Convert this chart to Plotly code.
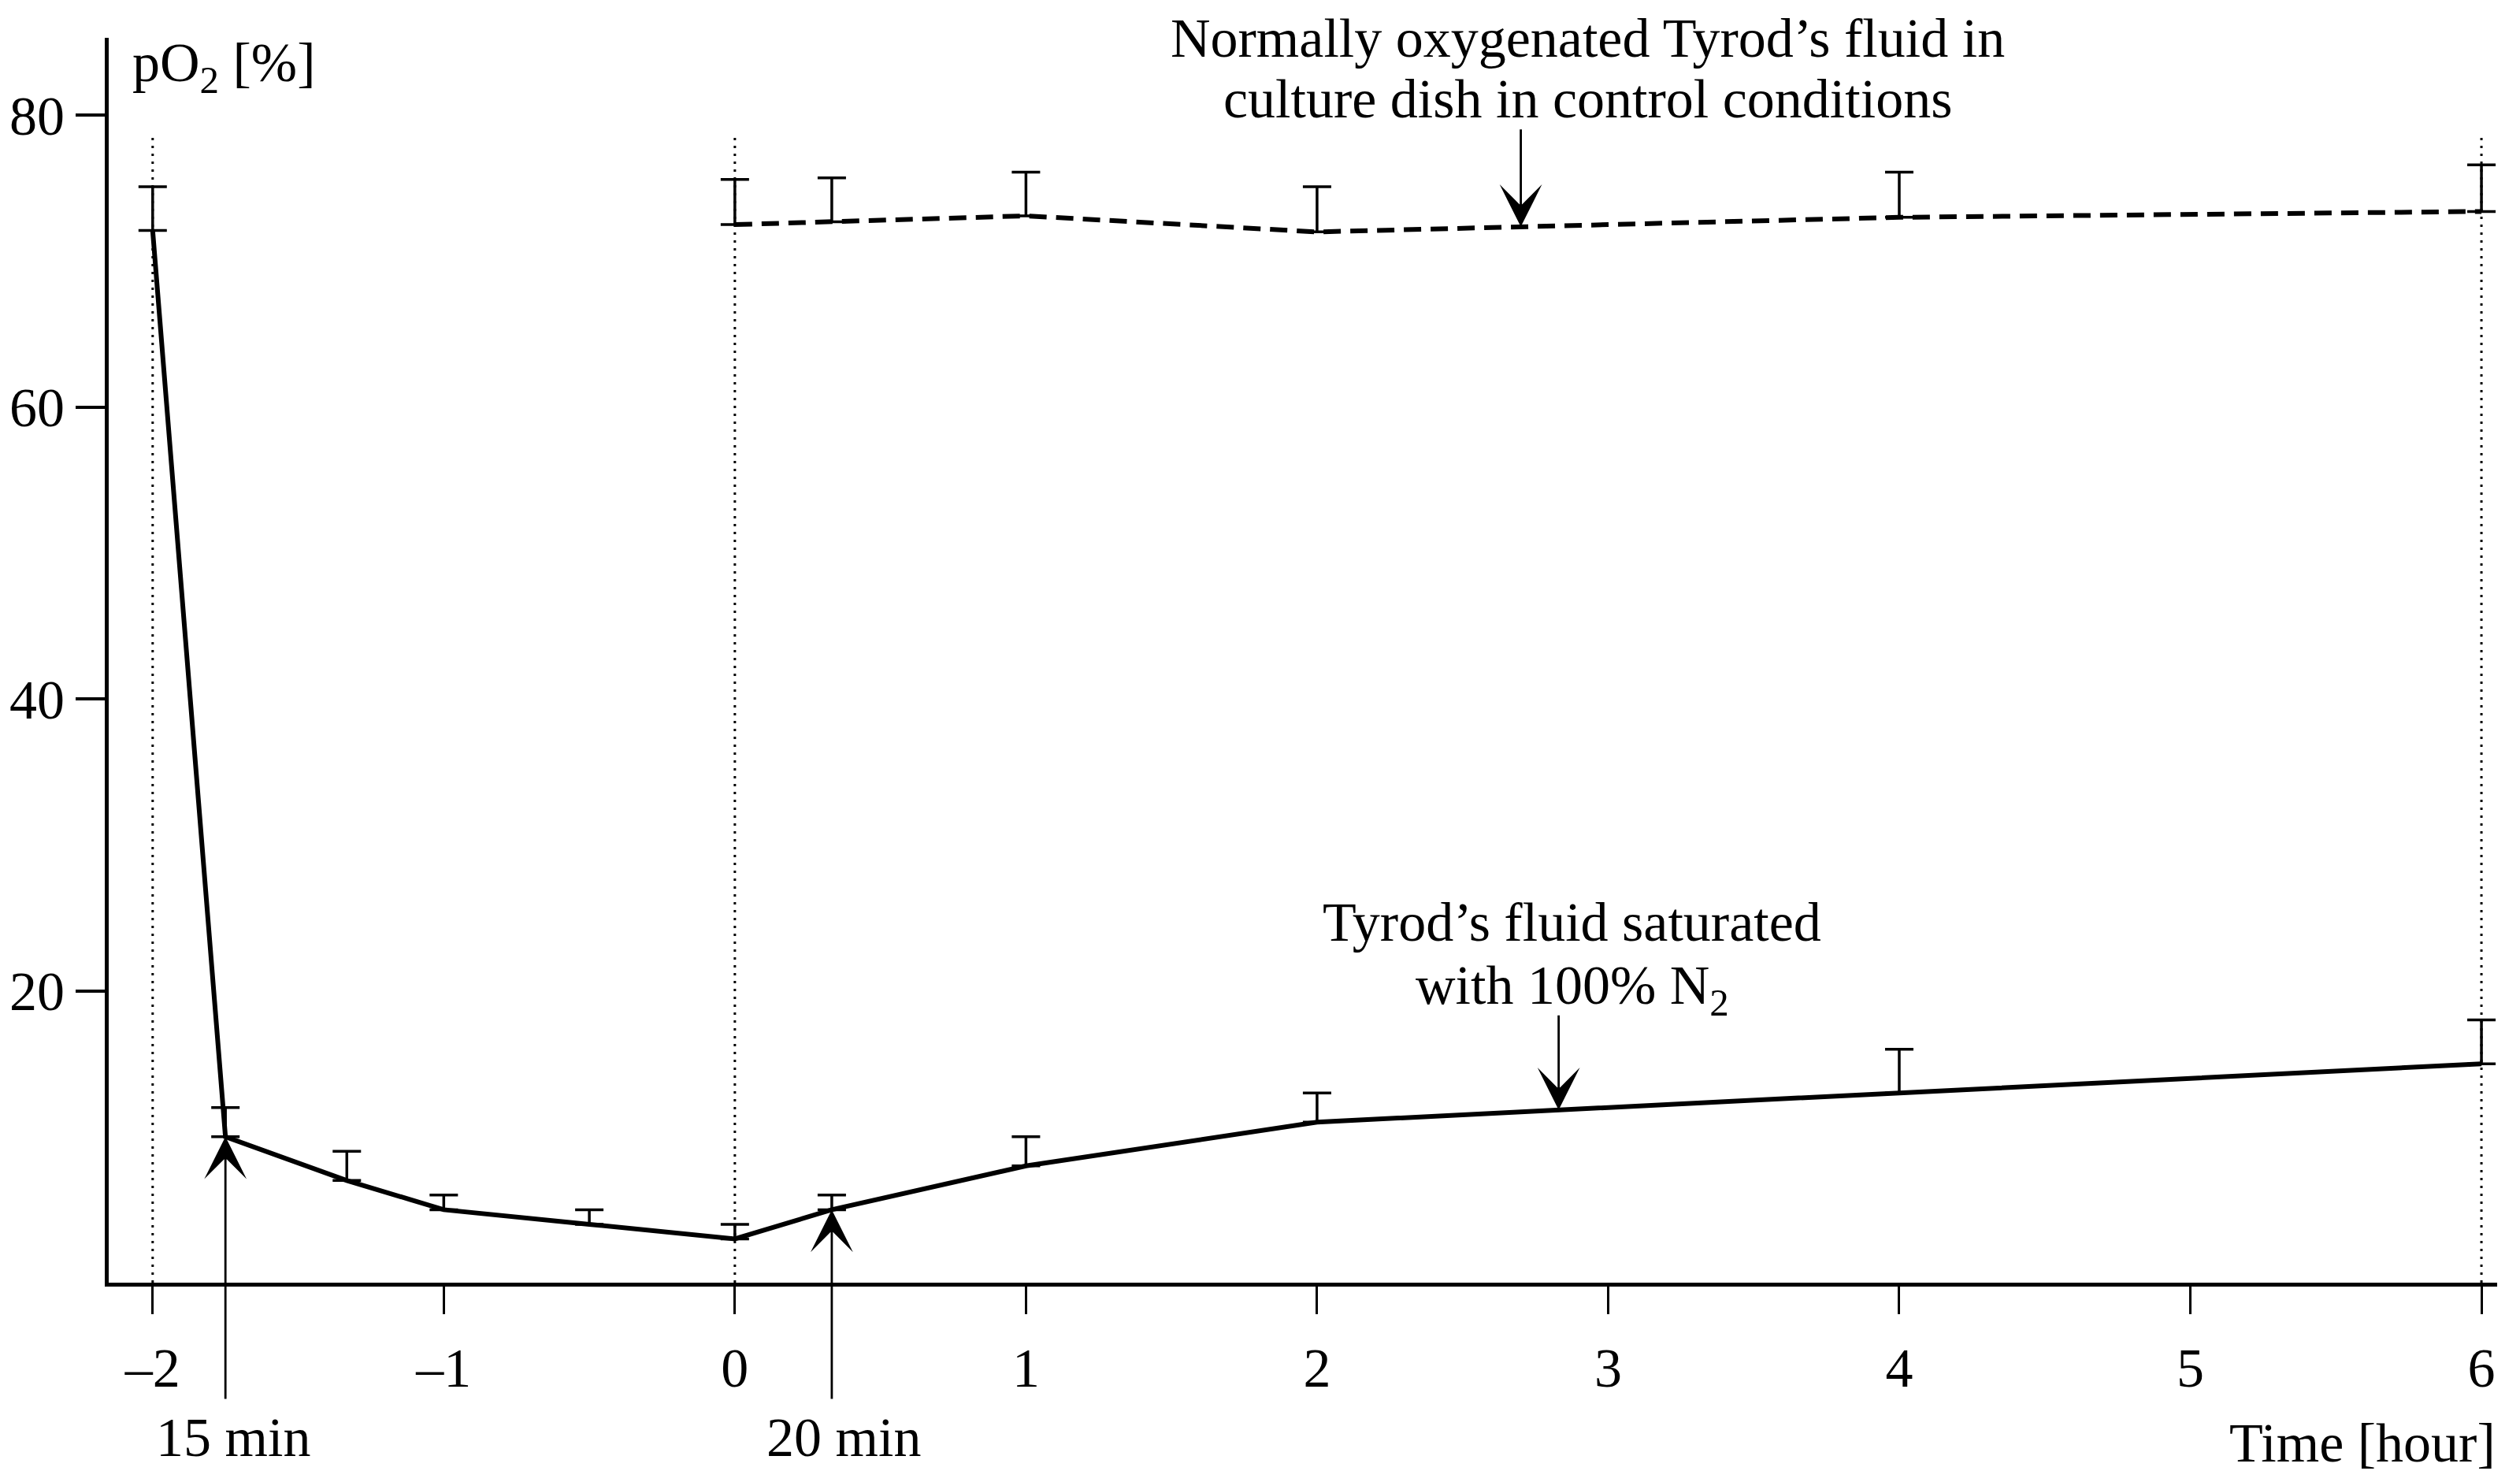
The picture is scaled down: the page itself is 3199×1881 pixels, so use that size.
import numpy as np
import plotly.graph_objects as go

# ---------------- data ----------------
# Tyrod's fluid saturated with 100% N2 (solid line)
n2_x = [-2, -1.75, -1.333, -1, -0.5, 0, 0.333, 1, 2, 4, 6]
n2_y = [72.1, 10.0, 7.0, 5.0, 4.0, 3.0, 5.0, 8.0, 11.0, 13.0, 15.0]
n2_err = [3.0, 2.0, 2.0, 1.0, 1.0, 1.0, 1.0, 2.0, 2.0, 3.0, 3.0]

# Normally oxygenated Tyrod's fluid, control (dashed line)
ctrl_x = [0, 0.333, 1, 2, 4, 6]
ctrl_y = [72.5, 72.7, 73.1, 72.0, 73.0, 73.4]
ctrl_err = [3.1, 3.0, 3.0, 3.1, 3.1, 3.2]

x_tickvals = [-2, -1, 0, 1, 2, 3, 4, 5, 6]
x_ticktext = ["–2", "–1", "0", "1", "2", "3", "4", "5", "6"]
y_tickvals = [20, 40, 60, 80]
y_ticktext = ["20", "40", "60", "80"]

phase_x = [-2, 0, 6]          # dotted marker lines
phase_top = 78.6

ctrl_label = ["Normally oxygenated Tyrod’s fluid in", "culture dish in control conditions"]
n2_label = ["Tyrod’s fluid saturated", "with 100% N<sub>2</sub>"]
ctrl_arrow_x = 2.70
n2_arrow_x = 2.83

FONT = "Liberation Serif"
FS = 70
XR = [-2.151, 6.054]
YR = [0, 85.3]


def px(v):
    return (v - XR[0]) / (XR[1] - XR[0])


def py(v):
    return (v - YR[0]) / (YR[1] - YR[0])


fig = go.Figure()

# dotted phase lines
for xv in phase_x:
    fig.add_shape(type="line", xref="x", yref="y", x0=xv, x1=xv, y0=0, y1=phase_top,
                  line=dict(color="black", width=3, dash="3px,7px"), layer="below")

fig.add_trace(go.Scatter(
    x=n2_x, y=n2_y, mode="lines",
    line=dict(color="black", width=6),
    error_y=dict(type="data", symmetric=False, array=n2_err,
                 arrayminus=[0] * len(n2_err), color="black", thickness=3.5, width=18),
    showlegend=False, cliponaxis=False))

fig.add_trace(go.Scatter(
    x=ctrl_x, y=ctrl_y, mode="lines",
    line=dict(color="black", width=6, dash="22px,12px"),
    error_y=dict(type="data", symmetric=False, array=ctrl_err,
                 arrayminus=[0] * len(ctrl_err), color="black", thickness=3.5, width=18),
    showlegend=False, cliponaxis=False))

annots = []
tf = dict(family=FONT, size=FS, color="black")
AW, AS = 2.8, 3.2

# y-axis title
annots.append(dict(x=px(-2.076), y=py(83.3), xref="paper", yref="paper",
                   text="pO<sub>2</sub> [%]",
                   showarrow=False, xanchor="left", yanchor="middle", font=tf))
# x-axis title
annots.append(dict(x=1.0, y=py(-11.0), xref="paper", yref="paper", text="Time [hour]",
                   showarrow=False, xanchor="right", yanchor="middle", font=tf))

# 15 min / 20 min arrows
arrow_tail = -8.05
for idx, lab, lx in [(1, "15 min", -1.724), (6, "20 min", 0.374)]:
    annots.append(dict(x=n2_x[idx], y=n2_y[idx], ax=n2_x[idx], ay=arrow_tail,
                       xref="x", yref="y", axref="x", ayref="y", text="",
                       showarrow=True, arrowhead=3, arrowwidth=AW, arrowsize=AS,
                       arrowcolor="black", standoff=0))
    annots.append(dict(x=px(lx), y=py(-10.6), xref="paper", yref="paper", text=lab,
                       showarrow=False, xanchor="center", yanchor="middle", font=tf))

# control annotation
ctrl_head = float(np.interp(ctrl_arrow_x, ctrl_x, ctrl_y))
annots.append(dict(x=ctrl_arrow_x, y=ctrl_head, ax=ctrl_arrow_x, ay=79.1,
                   xref="x", yref="y", axref="x", ayref="y", text="",
                   showarrow=True, arrowhead=3, arrowwidth=AW, arrowsize=AS,
                   arrowcolor="black", standoff=0))
for line_txt, yy in zip(ctrl_label, [85.3, 81.1]):
    annots.append(dict(x=px(2.93), y=py(yy), xref="paper", yref="paper", text=line_txt,
                       showarrow=False, xanchor="center", yanchor="middle", font=tf))

# N2 annotation
n2_head = float(np.interp(n2_arrow_x, n2_x, n2_y))
annots.append(dict(x=n2_arrow_x, y=n2_head, ax=n2_arrow_x, ay=18.4,
                   xref="x", yref="y", axref="x", ayref="y", text="",
                   showarrow=True, arrowhead=3, arrowwidth=AW, arrowsize=AS,
                   arrowcolor="black", standoff=0))
for line_txt, yy in zip(n2_label, [24.7, 20.1]):
    annots.append(dict(x=px(2.876), y=py(yy), xref="paper", yref="paper", text=line_txt,
                       showarrow=False, xanchor="center", yanchor="middle", font=tf))

fig.update_layout(
    width=3199, height=1881,
    margin=dict(l=135, r=29, t=48, b=253),
    paper_bgcolor="white", plot_bgcolor="white",
    font=dict(family=FONT, size=FS, color="black"),
    annotations=annots,
    xaxis=dict(range=XR, showgrid=False, zeroline=False,
               showline=True, linecolor="black", linewidth=5,
               tickmode="array", tickvals=x_tickvals, ticktext=x_ticktext,
               ticks="outside", ticklen=35, tickwidth=3, tickcolor="black",
               ticklabelstandoff=8,
               tickfont=dict(family=FONT, size=FS, color="black")),
    yaxis=dict(range=YR, showgrid=False, zeroline=False,
               showline=True, linecolor="black", linewidth=5,
               tickmode="array", tickvals=y_tickvals, ticktext=y_ticktext,
               ticks="outside", ticklen=37, tickwidth=3.5, tickcolor="black",
               tickfont=dict(family=FONT, size=FS, color="black")),
)

fig.write_html("out.html")
